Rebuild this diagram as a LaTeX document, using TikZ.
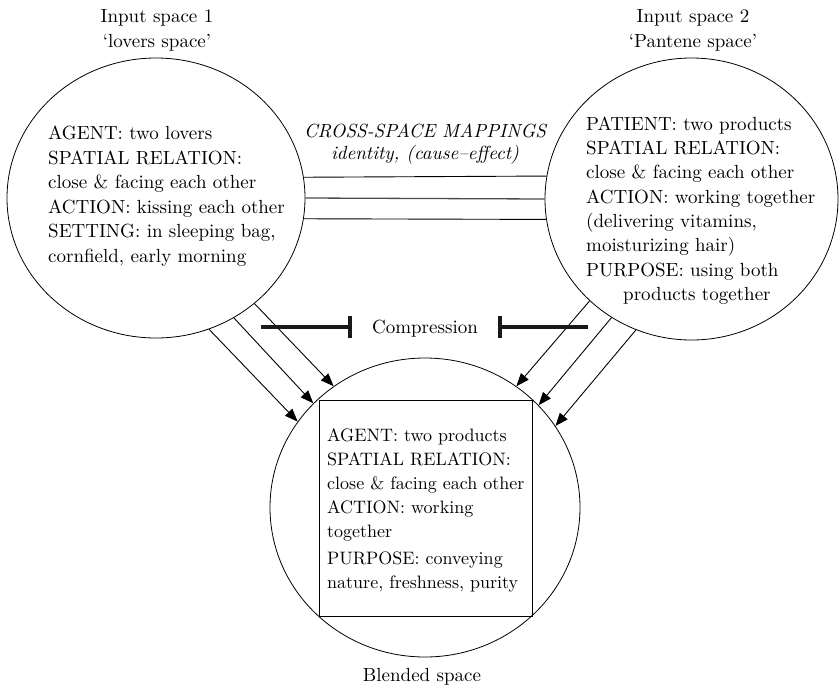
\documentclass[tikz,border=0pt]{standalone}
\usepackage{fontspec}
\setmainfont{lmroman10-regular}[Extension=.otf, ItalicFont=lmroman10-italic, BoldFont=lmroman10-bold]
\usetikzlibrary{shapes.geometric,arrows.meta}
\begin{document}
\begin{tikzpicture}[x=1pt,y=-1pt,
  space/.style={ellipse, draw, line width=0.8pt, inner sep=0pt},
  txt/.style={inner sep=0pt, align=left, anchor=north west},
  ttl/.style={inner sep=0pt, align=center, anchor=north, font=\fontsize{19}{24.5}\selectfont},
  mapline/.style={line width=0.9pt},
  midmap/.style={line width=1.3pt, draw=black!70},
  blendarrow/.style={line width=0.9pt, -{Triangle[length=13pt,width=10pt]}},
  compbar/.style={line width=4pt, draw=black!90, -{Bar[width=22pt]}}
]
\useasboundingbox (0,0) rectangle (839,689);

% spaces
\node[space, minimum width=298pt, minimum height=280pt] (L) at (156,198) {};
\node[space, minimum width=293pt, minimum height=282pt] (R) at (691.5,199) {};
\node[space, minimum width=310pt, minimum height=299pt] (B) at (425,507.5) {};
\node[draw, line width=0.9pt, minimum width=213pt, minimum height=216pt, inner sep=0pt] (box) at (425.5,508) {};

% titles
\node[ttl] (t1) at (157,5.35) {\strut Input space 1\\‘lovers space’};
\node[ttl] (t2) at (693,5.35) {\strut Input space 2\\‘Pantene space’};
\node[inner sep=0pt, anchor=base, font=\fontsize{19}{24.5}\selectfont] (t3) at (422,681.5) {Blended space};

% contents
\node[txt, font=\fontsize{19}{24.5}\selectfont] (Ltxt) at (48,122.35)
  {\strut AGENT: two lovers\\SPATIAL RELATION:\\close \& facing each other\\ACTION: kissing each other\\SETTING: in sleeping bag,\\cornfield, early morning};
\node[txt, font=\fontsize{19}{24.3}\selectfont] (Rtxt) at (586,113.0)
  {\strut PATIENT: two products\\SPATIAL RELATION:\\close \& facing each other\\ACTION: working together\\(delivering vitamins,\\moisturizing hair)\\PURPOSE: using both\\\hspace*{37pt}products together};
\node[txt, font=\fontsize{18}{24}\selectfont] (Btxt) at (327,424.9)
  {\strut AGENT: two products\\SPATIAL RELATION:\\close \& facing each other\\ACTION: working\\together\\[3pt]PURPOSE: conveying\\nature, freshness, purity};

% cross-space mappings
\node[inner sep=0pt, align=center, anchor=north, font=\itshape\fontsize{19}{21.7}\selectfont] (csm) at (425,122.1)
  {\strut CROSS-SPACE MAPPINGS\\identity, (cause–effect)};
\draw[mapline] (L.8.1) -- (R.171.4);
\draw[midmap] (L.0) -- (R.180);
\draw[mapline] (L.-8.9) -- (R.188.6);

% projections to blend
\draw[blendarrow] (L.-47) -- (B.127.7);
\draw[blendarrow] (L.-57.5) -- (B.137.2);
\draw[blendarrow] (L.-68.4) -- (B.146.8);
\draw[blendarrow] (R.225.4) -- (B.53.1);
\draw[blendarrow] (R.236.0) -- (B.42.8);
\draw[blendarrow] (R.247.4) -- (B.32.8);

% compression
\node[inner xsep=20.1pt, inner ysep=0pt, anchor=base, font=\fontsize{19}{24.5}\selectfont] (comp) at (425,333.3) {Compression};
\coordinate (cl) at (261,327);
\coordinate (cr) at (588,327);
\draw[compbar] (cl) -- (cl -| comp.west);
\draw[compbar] (cr) -- (cr -| comp.east);
\end{tikzpicture}
\end{document}
